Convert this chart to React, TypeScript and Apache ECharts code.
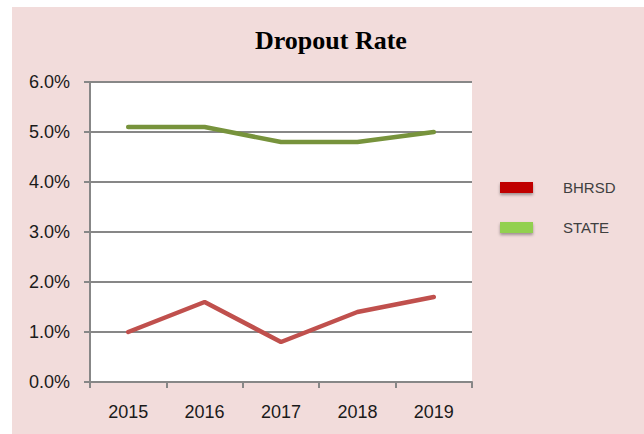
import React, { useEffect, useRef } from "react";
import * as echarts from "echarts";

const years = ["2015", "2016", "2017", "2018", "2019"];
const bhrsd = [1.0, 1.6, 0.8, 1.4, 1.7];
const state = [5.1, 5.1, 4.8, 4.8, 5.0];
const seriesNames = ["BHRSD", "STATE"];
const titleText = "Dropout Rate";

export default function App() {
  const ref = useRef<HTMLDivElement>(null);
  useEffect(() => {
    if (!ref.current) return;
    const chart = echarts.init(ref.current, undefined, { renderer: "svg" });
    const gray = "#878787";
    chart.setOption({
      animation: false,
      backgroundColor: "#ffffff",
      graphic: [
        {
          type: "rect",
          z: -10,
          silent: true,
          shape: { x: 12, y: 7, width: 640, height: 440 },
          style: { fill: "#F2DCDB" },
        },
      ],
      title: {
        text: titleText,
        left: 250,
        top: 22,
        textStyle: {
          fontFamily: "Liberation Serif",
          fontWeight: "bold",
          fontSize: 26,
          color: "#000000",
        },
      },
      legend: {
        orient: "vertical",
        left: 500,
        top: 180,
        padding: 0,
        itemWidth: 33,
        itemHeight: 11,
        itemGap: 25,
        icon: "rect",
        data: [
          {
            name: seriesNames[0],
            itemStyle: {
              color: "#C00000",
              shadowBlur: 3,
              shadowColor: "rgba(0,0,0,0.35)",
              shadowOffsetY: 2,
            },
          },
          {
            name: seriesNames[1],
            itemStyle: {
              color: "#92D050",
              shadowBlur: 3,
              shadowColor: "rgba(0,0,0,0.35)",
              shadowOffsetY: 2,
            },
          },
        ],
        textStyle: {
          fontFamily: "Liberation Sans",
          fontSize: 15,
          lineHeight: 15,
          color: "#404040",
          padding: [0, 0, 0, 25],
        },
      },
      grid: {
        left: 90,
        right: 172,
        top: 82,
        bottom: 52,
        show: true,
        backgroundColor: "#ffffff",
        borderWidth: 0,
      },
      xAxis: {
        type: "category",
        data: years,
        boundaryGap: true,
        axisLine: { show: true, lineStyle: { color: gray, width: 2 } },
        axisTick: {
          show: true,
          length: 6,
          alignWithLabel: false,
          lineStyle: { color: gray, width: 2 },
        },
        axisLabel: {
          margin: 21,
          fontFamily: "Liberation Sans",
          fontSize: 18,
          color: "#1a1a1a",
        },
        splitLine: { show: false },
      },
      yAxis: {
        type: "value",
        min: 0,
        max: 6,
        interval: 1,
        axisLine: { show: true, lineStyle: { color: gray, width: 2 } },
        axisTick: { show: true, length: 6, lineStyle: { color: gray, width: 2 } },
        axisLabel: {
          margin: 20,
          fontFamily: "Liberation Sans",
          fontSize: 18,
          color: "#1a1a1a",
          formatter: (v: number) => v.toFixed(1) + "%",
        },
        splitLine: { show: true, lineStyle: { color: gray, width: 2 } },
      },
      series: [
        {
          name: seriesNames[0],
          type: "line",
          data: bhrsd,
          symbol: "none",
          lineStyle: { color: "#C0504D", width: 4.5, cap: "round" },
          itemStyle: { color: "#C00000" },
        },
        {
          name: seriesNames[1],
          type: "line",
          data: state,
          symbol: "none",
          lineStyle: { color: "#77933C", width: 4.5, cap: "round" },
          itemStyle: { color: "#92D050" },
        },
      ],
    });
    return () => chart.dispose();
  }, []);
  return (
    <div
      ref={ref}
      style={{ position: "absolute", left: 0, top: 0, width: 644, height: 434 }}
    />
  );
}
